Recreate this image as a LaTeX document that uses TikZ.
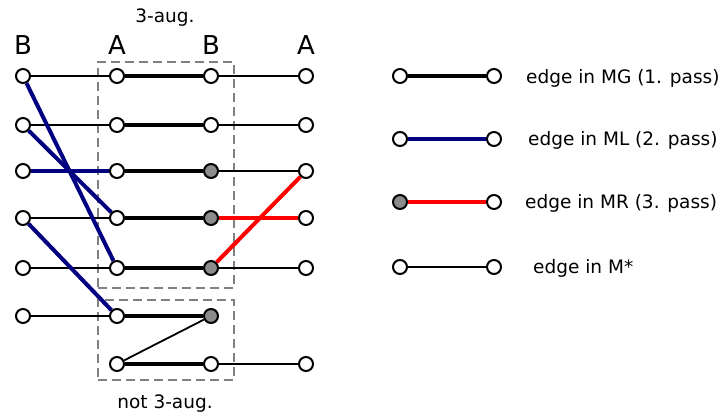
\documentclass[tikz,border=0pt]{standalone}
\usepackage{fontspec}
\setmainfont{DejaVu Sans}
\definecolor{navyb}{RGB}{0,0,128}
\definecolor{gfill}{RGB}{140,140,140}
\begin{document}
\begin{tikzpicture}[x=1pt,y=-1pt,
  vtx/.style={circle,draw=black,line width=2pt,fill=white,minimum size=14pt,inner sep=0pt},
  gvtx/.style={vtx,fill=gfill},
  mstar/.style={line width=1.8pt,black},
  mg/.style={line width=4.8pt,black},
  ml/.style={line width=4pt,navyb},
  mr/.style={line width=4pt,red},
  grp/.style={draw=gray,dash pattern=on 9pt off 5pt,line width=2pt},
  hdr/.style={font=\fontsize{26}{30}\selectfont},
  lbl/.style={font=\fontsize{18.5}{22}\selectfont}]
\useasboundingbox (0,0) rectangle (721,415);
% group boxes
\node[grp,minimum width=136pt,minimum height=226pt,inner sep=0pt] (box1) at (166,175) {};
\node[grp,minimum width=136pt,minimum height=80pt,inner sep=0pt] (box2) at (166,340) {};
\node[lbl] (t1) at (165,18) {3-aug.};
\node[lbl] (t2) at (165,404) {not 3-aug.};
\node[hdr] (h1) at (23,45) {B};
\node[hdr] (h2) at (117,45) {A};
\node[hdr] (h3) at (211,45) {B};
\node[hdr] (h4) at (306,45) {A};
% vertices
\foreach \r/\y in {1/76,2/125,3/171,4/218,5/268,6/316}{
  \node[vtx] (b\r) at (23,\y) {};
}
\foreach \r/\y in {1/76,2/125,3/171,4/218,5/268,6/316,7/364}{
  \node[vtx] (a\r) at (117,\y) {};
}
\node[vtx] (c1) at (211,76) {};
\node[vtx] (c2) at (211,125) {};
\node[gvtx] (c3) at (211,171) {};
\node[gvtx] (c4) at (211,218) {};
\node[gvtx] (c5) at (211,268) {};
\node[gvtx] (c6) at (211,316) {};
\node[vtx] (c7) at (211,364) {};
\foreach \r/\y in {1/76,2/125,3/171,4/218,5/268,7/364}{
  \node[vtx] (d\r) at (306,\y) {};
}
% edges
\foreach \r in {1,2,4,5,6}{ \draw[mstar] (b\r) -- (a\r); }
\foreach \r in {1,2,3,5,7}{ \draw[mstar] (c\r) -- (d\r); }
\draw[mstar] (a7) -- (c6);
\foreach \r in {1,...,7}{ \draw[mg] (a\r) -- (c\r); }
\draw[ml] (b1) -- (a5);
\draw[ml] (b2) -- (a4);
\draw[ml] (b3) -- (a3);
\draw[ml] (b4) -- (a6);
\draw[mr] (c4) -- (d4);
\draw[mr] (c5) -- (d3);
% legend
\node[vtx] (l1a) at (400,76) {};  \node[vtx] (l1b) at (494,76) {};
\node[vtx] (l2a) at (400,139) {}; \node[vtx] (l2b) at (494,139) {};
\node[gvtx] (l3a) at (400,202) {}; \node[vtx] (l3b) at (494,202) {};
\node[vtx] (l4a) at (400,267) {}; \node[vtx] (l4b) at (494,267) {};
\draw[mg] (l1a) -- (l1b);
\draw[ml] (l2a) -- (l2b);
\draw[mr] (l3a) -- (l3b);
\draw[mstar] (l4a) -- (l4b);
\node[lbl,anchor=west,inner sep=0pt] (lt1) at (526,78) {edge in MG (1. pass)};
\node[lbl,anchor=west,inner sep=0pt] (lt2) at (528,140) {edge in ML (2. pass)};
\node[lbl,anchor=west,inner sep=0pt] (lt3) at (525,203) {edge in MR (3. pass)};
\node[lbl,anchor=west,inner sep=0pt] (lt4) at (533,268) {edge in M*};
\end{tikzpicture}
\end{document}
